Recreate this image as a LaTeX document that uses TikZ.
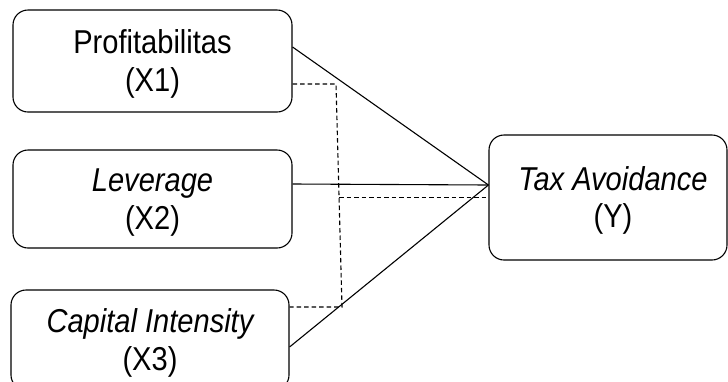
\documentclass[tikz,border=0pt]{standalone}
\usepackage{fontspec}
\setmainfont{Liberation Sans}
\usepackage{graphicx}
\newcommand{\boxtxt}[2]{\raisebox{-4pt}[\height][\depth]{\scalebox{1.02}[1.16]{\fontsize{28.5}{32.5}\selectfont\begin{tabular}{@{}c@{}}#1\\#2\end{tabular}}}}
\begin{document}
\begin{tikzpicture}[x=1pt,y=-1pt,
  varbox/.style={draw=black, line width=1.1pt, rounded corners=15pt, inner sep=0pt, align=center, text=black},
  link/.style={line width=1.1pt, black},
  dlink/.style={line width=1.1pt, black, dash pattern=on 4.5pt off 3pt}]
\useasboundingbox (0,0) rectangle (728,381);
\node[varbox, minimum width=279pt, minimum height=102pt] (b1) at (152.5,61) {\boxtxt{Profitabilitas}{(X1)}};
\node[varbox, minimum width=279pt, minimum height=98pt] (b2) at (152.5,199) {\boxtxt{\itshape Leverage}{(X2)}};
\node[varbox, minimum width=278pt, minimum height=100pt] (b3) at (150,340) {\boxtxt{\itshape Capital Intensity}{(X3)}};
\node[varbox, minimum width=238pt, minimum height=125pt] (y) at (608,197.5) {\hspace*{10pt}\boxtxt{\itshape Tax Avoidance}{(Y)}};
\coordinate (j1) at (336,84);
\coordinate (j2) at (342,307);
\coordinate (j3) at (339,197.5);
\draw[link] ([yshift=14pt]b1.east) -- ([yshift=12.5pt]y.west);
\draw[link] ([yshift=15pt]b2.east) -- ([yshift=12.5pt]y.west);
\draw[link] ([yshift=-7pt]b3.east) -- ([yshift=12.5pt]y.west);
\draw[dlink] ([yshift=-23pt]b1.east) -- (j1) -- (j2) -- ([yshift=33pt]b3.east);
\draw[dlink] (j3) -- (y.west);
\end{tikzpicture}
\end{document}
